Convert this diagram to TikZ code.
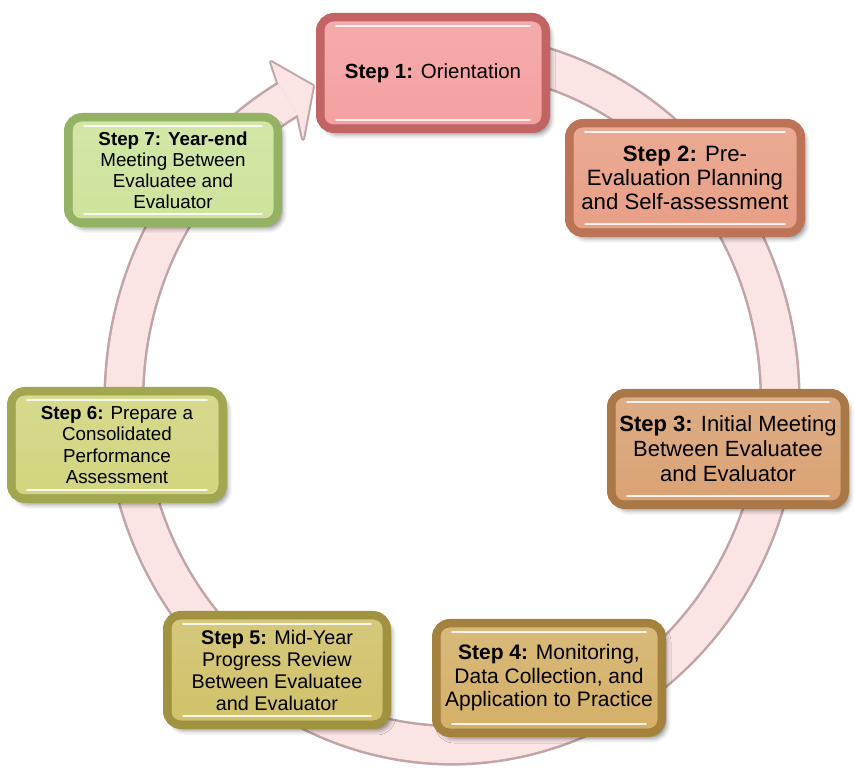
\documentclass[tikz,border=0pt]{standalone}
\usepackage{fontspec}
\setmainfont{Liberation Sans}
\usetikzlibrary{shadows.blur}
\definecolor{ringfill}{HTML}{FAE4E4}
\definecolor{ringedge}{HTML}{BFA5A5}
\definecolor{fA}{HTML}{F4A0A0}\definecolor{bA}{HTML}{C26464}
\definecolor{fB}{HTML}{E89F86}\definecolor{bB}{HTML}{BC7356}
\definecolor{fC}{HTML}{D9A274}\definecolor{bC}{HTML}{A97846}
\definecolor{fD}{HTML}{D4B068}\definecolor{bD}{HTML}{A4823D}
\definecolor{fE}{HTML}{D0C16A}\definecolor{bE}{HTML}{A0923E}
\definecolor{fF}{HTML}{D1D57E}\definecolor{bF}{HTML}{A1A74F}
\definecolor{fG}{HTML}{CDE39B}\definecolor{bG}{HTML}{94B264}
\tikzset{
  stepbox/.style n args={2}{draw=#2, line width=8pt, rounded corners=14pt,
    top color=#1!88!white, bottom color=#1, shading angle=0,
    align=center, inner sep=4pt,
    blur shadow={shadow xshift=4pt, shadow yshift=-5pt, shadow blur radius=5pt, shadow opacity=50},
    path picture={
      \draw[#2!70!black, line width=1pt, opacity=0.6, rounded corners=9pt]
        ([xshift=4pt,yshift=-4pt]path picture bounding box.north west) rectangle
        ([xshift=-4pt,yshift=4pt]path picture bounding box.south east);
      \draw[white, line width=1.8pt, opacity=0.85, line cap=round]
        ([xshift=16pt,yshift=-9pt]path picture bounding box.north west) --
        ([xshift=-16pt,yshift=-9pt]path picture bounding box.north east);
      \draw[white, line width=1.8pt, opacity=0.85, line cap=round]
        ([xshift=16pt,yshift=9pt]path picture bounding box.south west) --
        ([xshift=-16pt,yshift=9pt]path picture bounding box.south east);
    }},
  fs/.style 2 args={font=\fontsize{#1}{#2}\selectfont},
  ringline/.style={line width=#1, line cap=butt}
}
\begin{document}
\begin{tikzpicture}[x=1pt,y=1pt]
\useasboundingbox (0,0) rectangle (854,774);
\coordinate (c) at (452,375);
% ring edge
\draw[ringedge, ringline=41] (c) ++(105:328 and 346) arc[start angle=105, end angle=-240, x radius=328, y radius=346];
\coordinate (ro) at (278.1,690.8);
\coordinate (ri) at (297.9,658.4);
\coordinate (ba) at (271,712);
\coordinate (tip) at (313,688);
\coordinate (bb) at (303,635);
\draw[ringedge, line width=4pt, line join=round, fill=ringedge] (ro) -- (ba) -- (tip) -- (bb) -- (ri) -- cycle;
% ring fill
\draw[ringfill, ringline=36] (c) ++(105:328 and 346) arc[start angle=105, end angle=-240, x radius=328, y radius=346];
\fill[ringfill] (ro) -- (ba) -- (tip) -- (bb) -- (ri) -- cycle;
% steps
\node[stepbox={fA}{bA}, fs={20.5}{23}, minimum width=226pt, minimum height=112pt] (s1) at (433,701) {\textbf{Step 1:} Orientation};
\node[stepbox={fB}{bB}, fs={22.2}{24}, minimum width=232pt, minimum height=110pt] (s2) at (685,596) {\textbf{Step 2:} Pre-\\Evaluation Planning\\and Self-assessment};
\node[stepbox={fC}{bC}, fs={22}{25}, minimum width=234pt, minimum height=112pt] (s3) at (728,325) {\textbf{Step 3:} Initial Meeting\\Between Evaluatee\\and Evaluator};
\node[stepbox={fD}{bD}, fs={21}{23.5}, minimum width=226pt, minimum height=110pt] (s4) at (549,96) {\textbf{Step 4:} Monitoring,\\Data Collection, and\\Application to Practice};
\node[stepbox={fE}{bE}, fs={19.8}{22}, minimum width=220pt, minimum height=110pt] (s5) at (277,104) {\textbf{Step 5:} Mid-Year\\Progress Review\\Between Evaluatee\\and Evaluator};
\node[stepbox={fF}{bF}, fs={18.8}{21.5}, minimum width=212pt, minimum height=108pt] (s6) at (117,329) {\textbf{Step 6:} Prepare a\\Consolidated\\Performance\\Assessment};
\node[stepbox={fG}{bG}, fs={18.8}{21}, minimum width=210pt, minimum height=106pt] (s7) at (173,604) {\textbf{Step 7: Year-end}\\Meeting Between\\Evaluatee and\\Evaluator};
\end{tikzpicture}
\end{document}
